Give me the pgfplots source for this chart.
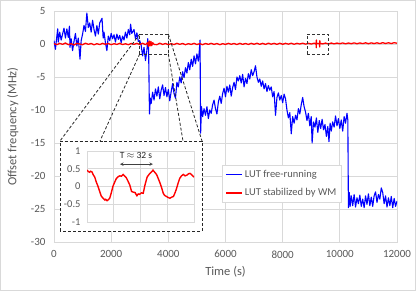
\documentclass[border=0pt]{standalone}
\usepackage{pgfplots}
\pgfplotsset{compat=1.18}
\usepackage{fontspec}
\setmainfont{Carlito}
\definecolor{txt}{HTML}{595959}
\definecolor{gridc}{HTML}{D9D9D9}
\definecolor{lutblue}{RGB}{0,0,255}
\definecolor{lutred}{RGB}{255,0,0}
\begin{document}
\begin{tikzpicture}[x=1bp,y=1bp]
\useasboundingbox (-54bp,-49bp) rectangle (362bp,242bp);
\fill[white] (-54bp,-49bp) rectangle (362bp,242bp);
\draw[gridc,line width=0.75bp] (-53.5bp,-48.5bp) rectangle (361.5bp,241.5bp);
\begin{axis}[
  at={(0bp,0bp)}, anchor=south west,
  scale only axis, width=343bp, height=231bp,
  xmin=0, xmax=12000, ymin=-30, ymax=5,
  xtick={0,2000,...,12000}, ytick={-30,-25,...,5},
  scaled x ticks=false,
  /pgf/number format/1000 sep={},
  /pgf/number format/assume math mode=true,
  major tick length=0pt,
  grid=major, grid style={gridc, line width=0.75bp},
  axis line style={gridc, line width=0.75bp},
  tick label style={font=\fontsize{11bp}{13bp}\selectfont, text=txt},
  yticklabel style={xshift=-5bp},
  xticklabel style={yshift=-5bp},
  xlabel={Time (s)}, ylabel={Offset frequency (MHz)},
  label style={font=\fontsize{12.5bp}{14bp}\selectfont, text=txt},
  xlabel style={at={(axis description cs:0.5,-0.13)}, anchor=center},
  ylabel style={at={(axis description cs:-0.12,0.5)}, anchor=center},
  legend style={at={(0.49,0.333)}, anchor=north west, draw=gridc, fill=white,
    font=\fontsize{10.5bp}{12bp}\selectfont, row sep=5.5bp, inner sep=3bp},
  legend cell align=left,
  legend image code/.code={\draw[#1, line width=1.6bp] (0bp,0bp) -- (16bp,0bp);},
  every axis plot/.append style={line join=round},
]
\addplot[lutblue, line width=1.1bp, mark=none] coordinates {
(0,0.5)(50,-0.8)(100,1.2)(130,2.3)(150,0.3)(200,1.8)(250,0.6)(300,1.5)(350,2.4)(400,0.9)(450,2.3)(500,1.0)(540,2.7)(560,-0.5)(600,0.8)(650,-1.0)(700,0.4)(750,1.6)(800,-0.3)(850,0.9)(910,-2.3)(950,0.5)(1000,1.5)(1050,2.8)(1100,1.9)(1150,4.7)(1200,2.5)(1250,3.2)(1300,1.8)(1350,3.6)(1400,2.2)(1450,1.2)(1500,2.8)(1550,1.5)(1600,3.2)(1680,3.9)(1720,0.9)(1750,1.8)(1800,0.2)(1850,-1.0)(1900,1.2)(1950,0.5)(2000,1.6)(2050,0.8)(2100,1.4)(2150,0.3)(2200,1.5)(2250,0.7)(2300,1.3)(2350,0.2)(2400,1.2)(2450,0.6)(2500,1.8)(2550,0.9)(2600,2.2)(2650,1.4)(2680,3.0)(2720,1.6)(2800,2.2)(2850,0.8)(2900,1.7)(2950,0.4)
(3000,0.5)(3050,-0.2)(3100,-1.8)(3150,-0.5)(3200,-2.5)(3250,-1.0)(3280,0.8)(3310,-0.8)(3340,-10.6)(3370,-8.2)(3400,-9.0)(3450,-7.3)(3500,-8.5)(3550,-6.8)(3600,-7.9)(3650,-6.5)(3700,-8.3)(3750,-7.0)(3800,-6.2)(3850,-7.8)(3900,-6.6)(3950,-8.0)(4000,-6.9)(4050,-8.6)(4100,-7.2)(4150,-6.0)(4200,-7.5)(4250,-8.2)(4300,-5.8)(4350,-6.5)(4400,-5.0)(4450,-5.9)(4500,-4.2)(4550,-5.1)(4600,-3.6)(4650,-4.4)(4700,-2.8)(4750,-3.9)(4800,-2.3)(4850,-3.4)(4900,-1.8)(4950,-3.0)(5000,-1.5)(5050,-2.6)(5080,-1.2)(5110,0.6)(5130,-13.5)(5160,-9.5)(5200,-11.0)(5250,-9.8)(5300,-10.8)(5350,-9.5)(5400,-11.3)(5450,-10.0)(5500,-10.5)(5550,-9.2)(5600,-8.5)(5650,-9.8)(5700,-10.6)(5750,-8.8)(5800,-7.9)(5850,-9.0)(5900,-7.5)(5950,-6.7)(6000,-8.0)(6050,-6.4)(6100,-7.3)(6150,-6.2)(6200,-7.9)(6250,-6.6)(6300,-5.8)(6350,-6.9)(6400,-5.0)(6450,-5.6)(6500,-4.8)(6550,-5.9)(6600,-4.6)(6650,-6.5)(6700,-5.2)(6750,-6.0)(6800,-4.5)(6850,-5.3)(6900,-3.9)(6950,-4.8)(7000,-4.2)(7050,-3.3)(7100,-5.0)(7150,-5.8)(7200,-5.3)(7250,-6.4)(7300,-5.6)(7350,-6.8)(7400,-6.0)(7450,-7.2)(7500,-6.3)(7550,-7.0)(7600,-6.5)(7650,-8.0)(7700,-7.2)(7750,-10.8)(7800,-8.1)(7850,-7.4)(7900,-8.5)(7950,-7.8)(8000,-8.9)(8050,-7.6)(8100,-8.3)(8150,-10.0)(8200,-11.2)(8250,-10.4)(8300,-13.6)(8350,-11.0)(8400,-12.0)(8450,-10.8)(8500,-11.5)(8550,-9.8)(8600,-10.6)(8650,-9.2)(8700,-8.1)(8750,-9.5)(8800,-10.3)(8850,-11.6)(8900,-10.5)(8950,-12.4)(9000,-11.0)(9030,-15.0)(9080,-11.8)(9130,-12.6)(9180,-11.2)(9230,-13.4)(9280,-11.6)(9330,-12.8)(9380,-11.4)(9430,-13.0)(9480,-12.2)(9530,-14.0)(9580,-12.5)(9620,-14.8)(9660,-12.0)(9700,-13.2)(9750,-11.8)(9800,-12.6)(9850,-10.9)(9900,-12.4)(9950,-11.3)(10000,-12.8)(10050,-11.5)(10100,-13.2)(10150,-11.0)(10200,-12.0)(10250,-10.5)(10280,-11.5)(10300,-24.8)(10330,-22.5)(10360,-24.6)(10400,-23.0)(10450,-24.5)(10500,-22.8)(10550,-24.7)(10600,-23.3)(10650,-24.2)(10700,-22.9)(10750,-24.6)(10800,-23.5)(10850,-24.8)(10900,-23.0)(10950,-24.3)(11000,-22.7)(11050,-24.5)(11100,-23.2)(11150,-24.6)(11200,-23.0)(11250,-22.4)(11300,-24.0)(11350,-22.8)(11400,-23.5)(11450,-21.8)(11500,-22.5)(11550,-24.2)(11600,-23.0)(11650,-24.7)(11700,-23.3)(11750,-24.5)(11800,-23.1)(11850,-24.8)(11900,-23.4)(11950,-24.6)(12000,-23.8)
};
\addlegendentry{\textcolor{txt}{LUT free-running}}
\addplot[lutred, line width=1.3bp, mark=none] coordinates {
(0,0.05)(100,-0.1)(200,0.1)(300,-0.05)(400,0.15)(500,-0.1)(600,0.05)(700,-0.15)(800,0.1)(900,0)(1000,-0.1)(1100,0.12)(1200,-0.05)(1300,0.08)(1400,-0.12)(1500,0.05)(1600,-0.08)(1700,0.1)(1800,-0.05)(1900,0.08)(2000,-0.1)(2100,0.05)(2200,-0.06)(2300,0.1)(2400,-0.08)(2500,0.04)(2600,-0.1)(2700,0.08)(2800,-0.05)(2900,0.1)(3000,-0.08)(3100,0.12)(3200,-0.1)(3280,0.2)(3300,-0.35)(3330,0.45)(3360,-0.3)(3390,0.4)(3420,-0.25)(3450,0.2)(3500,-0.05)(3600,-0.1)(3700,0.12)(3800,-0.06)(3900,0.08)(4000,-0.1)(4100,0.06)(4200,-0.08)(4300,0.1)(4400,-0.05)(4500,0.08)(4600,-0.1)(4700,0.05)(4800,-0.06)(4900,0.1)(5000,-0.08)(5100,0.06)(5200,-0.1)(5300,0.08)(5400,-0.05)(5500,0.1)(5600,-0.06)(5700,0.08)(5800,-0.1)(5900,0.05)(6000,-0.06)(6100,0.1)(6200,-0.04)(6300,0.08)(6400,-0.08)(6500,0.1)(6600,-0.05)(6700,0.08)(6800,-0.06)(6900,0.1)(7000,-0.04)(7100,0.12)(7200,-0.05)(7300,0.1)(7400,-0.06)(7500,0.12)(7600,-0.03)(7700,0.1)(7800,-0.05)(7900,0.12)(8000,-0.04)(8100,0.1)(8200,-0.02)(8300,0.12)(8400,-0.04)(8500,0.1)(8600,0)(8700,0.12)(8800,-0.02)(8900,0.1)(9000,0)(9100,0.12)(9170,0.05)(9175,-0.55)(9180,0.6)(9185,0.05)(9290,0.1)(9295,-0.45)(9300,0.5)(9305,0.1)(9400,0.02)(9500,0.14)(9600,0.0)(9700,0.15)(9800,0.02)(9900,0.14)(10000,0.04)(10100,0.16)(10200,0.03)(10300,0.15)(10400,0.05)(10500,0.17)(10600,0.04)(10700,0.16)(10800,0.06)(10900,0.18)(11000,0.05)(11100,0.17)(11200,0.07)(11300,0.18)(11400,0.06)(11500,0.2)(11600,0.08)(11700,0.19)(11800,0.07)(11900,0.2)(12000,0.12)
};
\addlegendentry{\textcolor{txt}{LUT stabilized by WM}}
\draw[black!80, densely dashed, line width=0.8bp] (axis cs:3000,-1.5) rectangle (axis cs:4000,1.5);
\draw[black!80, densely dashed, line width=0.8bp] (axis cs:8850,-1.5) rectangle (axis cs:9600,1.5);
\coordinate (tl) at (axis cs:3000,1.5);
\coordinate (bl) at (axis cs:3000,-1.5);
\coordinate (tr) at (axis cs:4000,1.5);
\coordinate (br) at (axis cs:4000,-1.5);
\end{axis}
\draw[black!85, densely dashed, line width=0.8bp] (tl) -- (6bp,101bp);
\draw[black!85, densely dashed, line width=0.8bp] (bl) -- (46bp,101bp);
\draw[black!85, densely dashed, line width=0.8bp] (br) -- (129bp,101bp);
\draw[black!85, densely dashed, line width=0.8bp] (tr) -- (148bp,101bp);
\filldraw[fill=white, draw=black!85, densely dashed, line width=0.8bp] (6bp,11bp) rectangle (148bp,101bp);
\begin{axis}[
  at={(33bp,20bp)}, anchor=south west,
  scale only axis, width=107bp, height=71bp,
  xmin=0, xmax=120, ymin=-1, ymax=1,
  xtick={0,30,60,90,120}, xticklabels={},
  ytick={-1,-0.5,0,0.5,1},
  /pgf/number format/assume math mode=true,
  major tick length=0pt,
  grid=major, grid style={gridc, line width=0.75bp},
  axis line style={gridc, line width=0.75bp},
  tick label style={font=\fontsize{10.5bp}{12bp}\selectfont, text=txt},
  yticklabel style={xshift=-3bp},
]
\addplot[lutred, line width=1.4bp, mark=none] coordinates {
(0,0.46)(1.5,0.42)(3,0.40)(4,0.43)(5.6,0.41)(7,0.33)(8.6,0.27)(10.5,0.12)(12.4,0.0)(14,-0.12)(16,-0.27)(18,-0.33)(20,-0.38)(21,-0.36)(22.5,-0.40)(24,-0.37)(25.5,-0.33)(27,-0.2)(29,0.0)(31,0.12)(33,0.23)(35,0.28)(36.8,0.30)(38.5,0.29)(40.5,0.34)(42,0.30)(44,0.25)(46,0.15)(48,0.04)(49,-0.05)(50,-0.14)(52,-0.16)(54,-0.17)(55,-0.22)(56,-0.26)(57.5,-0.21)(59,-0.22)(61,-0.18)(63,-0.19)(64,-0.08)(65,0.04)(66.5,0.18)(67.5,0.27)(69,0.32)(70.5,0.37)(72,0.40)(74,0.46)(76,0.40)(78,0.34)(80,0.22)(82,0.09)(84,-0.06)(85.5,-0.19)(87,-0.25)(89,-0.28)(91,-0.31)(93,-0.33)(95,-0.30)(97,-0.28)(99,-0.16)(100.5,-0.05)(102,0.08)(104,0.23)(106,0.30)(108,0.34)(110,0.30)(112,0.32)(114,0.36)(115.5,0.37)(117.5,0.33)(120,0.26)
};
\draw[<->, >=stealth, black!75, line width=0.6bp] (axis cs:37,0.63) -- (axis cs:74,0.63);
\node[font=\fontsize{9.5bp}{11bp}\selectfont, text=black!85] at (axis cs:55,0.87) {T $\approx$ 32 s};
\end{axis}
\end{tikzpicture}
\end{document}
